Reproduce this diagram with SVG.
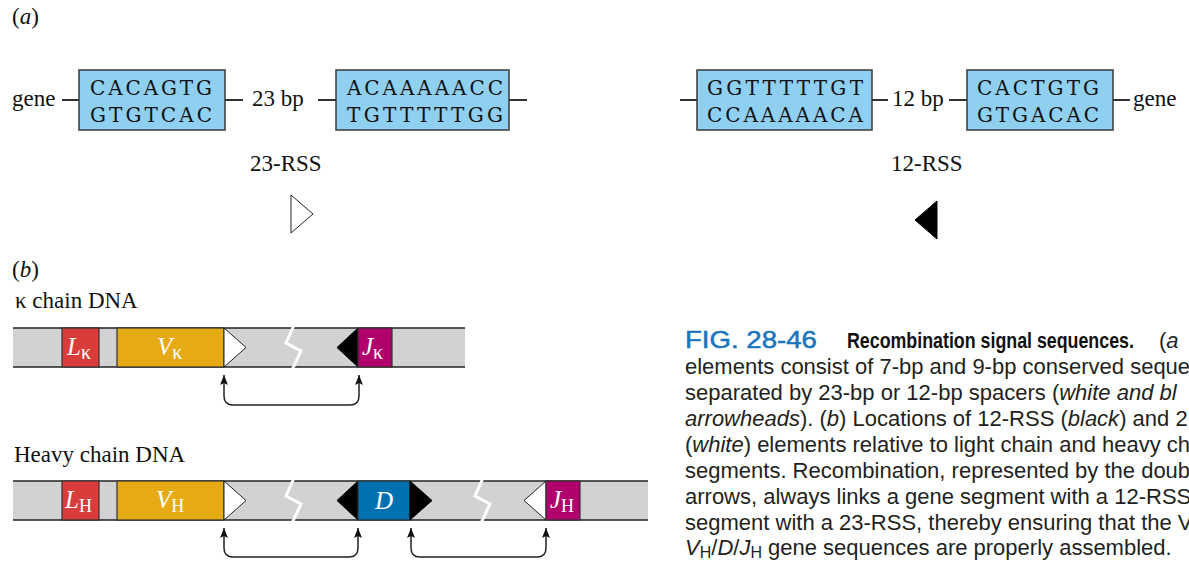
<svg xmlns="http://www.w3.org/2000/svg" width="1189" height="561" viewBox="0 0 1189 561">
<defs>
<style>
.serif{font-family:"Liberation Serif","DejaVu Serif",serif;fill:#111}
.lbl{font-size:23px}
.seq{font-family:"DejaVu Serif","Liberation Serif",serif;font-size:20px;fill:#111}
.box{fill:#8fcff0;stroke:#3a3a3a;stroke-width:1.5}
.ln{stroke:#333;stroke-width:1.8;fill:none}
.bar{fill:#d1d2d4}
.edge{stroke:#222;stroke-width:1.5}
.seg{stroke:#333;stroke-width:1.2}
.wl{font-family:"Liberation Serif","DejaVu Serif",serif;font-size:25px;fill:#fff}
.sub{font-size:20px}
.brk{stroke:#fff;stroke-width:3;fill:none}
.tw{fill:#fff;stroke:#222;stroke-width:1}
.tb{fill:#000;stroke:#000;stroke-width:1}
.conn{stroke:#222;stroke-width:1.5;fill:none}
.cap{font-family:"Liberation Sans","Noto Sans",sans-serif;font-size:22px;fill:#231f20}
.fig{font-family:"Liberation Sans","Noto Sans",sans-serif;font-size:23px;fill:#1b75bc;stroke:#1b75bc;stroke-width:0.5}
.bold{font-family:"Liberation Sans","Noto Sans",sans-serif;font-size:22px;font-weight:bold;fill:#111}
.it{font-style:italic}
</style>
<marker id="ah" viewBox="0 0 10 8" refX="10" refY="4" markerWidth="10" markerHeight="8" markerUnits="userSpaceOnUse" orient="auto-start-reverse">
<path d="M0,0 L10,4 L0,8 L2,4 Z" fill="#111"/>
</marker>
</defs>

<g id="panel-a">
<text class="serif lbl" x="12" y="24">(<tspan class="it">a</tspan>)</text>
<g id="rss23">
<text class="serif lbl" x="12" y="106">gene</text>
<g id="hept1"><rect class="box" x="79" y="70" width="146" height="60"/>
<text class="seq" x="90" y="95" textLength="122" lengthAdjust="spacing">CACAGTG</text>
<text class="seq" x="90" y="122" textLength="122" lengthAdjust="spacing">GTGTCAC</text></g>
<text class="serif lbl" x="252" y="106">23 bp</text>
<g id="non1"><rect class="box" x="336" y="70" width="173" height="60"/>
<text class="seq" x="347" y="95" textLength="156" lengthAdjust="spacing">ACAAAAACC</text>
<text class="seq" x="347" y="122" textLength="156" lengthAdjust="spacing">TGTTTTTGG</text></g>
<text class="serif lbl" x="250" y="171">23-RSS</text>
<polygon class="tw" points="291,195 313,214 291,233"/>
</g>
<g id="rss12">
<g id="non2"><rect class="box" x="697" y="70" width="175" height="60"/>
<text class="seq" x="707" y="95" textLength="156" lengthAdjust="spacing">GGTTTTTGT</text>
<text class="seq" x="707" y="122" textLength="156" lengthAdjust="spacing">CCAAAAACA</text></g>
<text class="serif lbl" x="892" y="106">12 bp</text>
<g id="hept2"><rect class="box" x="967" y="70" width="146" height="60"/>
<text class="seq" x="977" y="95" textLength="122" lengthAdjust="spacing">CACTGTG</text>
<text class="seq" x="977" y="122" textLength="122" lengthAdjust="spacing">GTGACAC</text></g>
<text class="serif lbl" x="1133" y="106">gene</text>
<text class="serif lbl" x="891" y="171">12-RSS</text>
<polygon class="tb" points="937,201 915,220 937,239"/>
</g>
</g>

<g id="panel-b">
<text class="serif lbl" x="12" y="277">(<tspan class="it">b</tspan>)</text>
<g id="kappa">
<text class="serif lbl" x="15" y="308">κ chain DNA</text>
<rect class="bar" x="13" y="328" width="452" height="39"/>
<line class="edge" x1="13" y1="328" x2="465" y2="328"/>
<line class="edge" x1="13" y1="367" x2="465" y2="367"/>
<g id="Lk"><rect class="seg" x="62" y="328" width="37" height="39" fill="#da3b3b"/>
<text class="wl" x="67" y="355"><tspan class="it">L</tspan><tspan class="sub" dy="4">κ</tspan></text></g>
<g id="Vk"><rect class="seg" x="117" y="328" width="107" height="39" fill="#e6aa15"/>
<text class="wl" x="157" y="355"><tspan class="it">V</tspan><tspan class="sub" dy="4">κ</tspan></text></g>
<polygon class="tw" points="224,328 246,347.5 224,367"/>
<polyline class="brk" points="294,325 286,343 301,351 292,370"/>
<polygon class="tb" points="358,328 337,347.5 358,367"/>
<g id="Jk"><rect class="seg" x="358" y="328" width="34" height="39" fill="#b1016c"/>
<text class="wl" x="362" y="355"><tspan class="it">J</tspan><tspan class="sub" dy="4">κ</tspan></text></g>
</g>
<g id="heavy">
<text class="serif lbl" x="14" y="462">Heavy chain DNA</text>
<rect class="bar" x="13" y="481" width="635" height="39"/>
<line class="edge" x1="13" y1="481" x2="648" y2="481"/>
<line class="edge" x1="13" y1="520" x2="648" y2="520"/>
<g id="LH"><rect class="seg" x="62" y="481" width="37" height="39" fill="#da3b3b"/>
<text class="wl" x="65" y="508"><tspan class="it">L</tspan><tspan font-size="18" dy="4">H</tspan></text></g>
<g id="VH"><rect class="seg" x="117" y="481" width="107" height="39" fill="#e6aa15"/>
<text class="wl" x="156" y="508"><tspan class="it">V</tspan><tspan font-size="18" dy="4">H</tspan></text></g>
<polygon class="tw" points="224,481 246,500.5 224,520"/>
<polyline class="brk" points="294,478 286,496 301,504 292,523"/>
<polygon class="tb" points="358,481 337,500.5 358,520"/>
<g id="D"><rect class="seg" x="358" y="481" width="52" height="39" fill="#0071b0"/>
<text class="wl it" x="384" y="509" text-anchor="middle">D</text></g>
<polygon class="tb" points="410,481 432,500.5 410,520"/>
<polyline class="brk" points="483,478 475,496 490,504 481,523"/>
<polygon class="tw" points="546,481 524,500.5 546,520"/>
<g id="JH"><rect class="seg" x="546" y="481" width="34" height="39" fill="#b1016c"/>
<text class="wl" x="550" y="508"><tspan class="it">J</tspan><tspan font-size="18" dy="4">H</tspan></text></g>
</g>
</g>

<g id="connectors">
<path class="ln" d="M62,100 H79 M225,100 H243 M318,100 H336 M509,100 H527"/>
<path class="ln" d="M680,100 H697 M872,100 H888 M949,100 H967 M1113,100 H1130"/>
<path class="conn" marker-start="url(#ah)" marker-end="url(#ah)" d="M224,375 V396 Q224,405 233,405 H350 Q359,405 359,396 V375"/>
<path class="conn" marker-start="url(#ah)" marker-end="url(#ah)" d="M224,528 V548 Q224,557 233,557 H349 Q358,557 358,548 V528"/>
<path class="conn" marker-start="url(#ah)" marker-end="url(#ah)" d="M411,528 V548 Q411,557 420,557 H537 Q546,557 546,548 V528"/>
</g>

<g id="caption">
<text class="fig" transform="translate(685,348) scale(1.2,1)">FIG. 28-46</text>
<text class="bold" transform="translate(847,348) scale(0.81,1)">Recombination signal sequences.</text>
<text class="cap" x="1159" y="348">(<tspan class="it">a</tspan></text>
<text class="cap" x="685" y="374">elements consist of 7-bp and 9-bp conserved seque</text>
<text class="cap" x="685" y="400">separated by 23-bp or 12-bp spacers (<tspan class="it">white and bl</tspan></text>
<text class="cap" x="685" y="426"><tspan class="it">arrowheads</tspan>). (<tspan class="it">b</tspan>) Locations of 12-RSS (<tspan class="it">black</tspan>) and 2</text>
<text class="cap" x="685" y="452">(<tspan class="it">white</tspan>) elements relative to light chain and heavy ch</text>
<text class="cap" x="685" y="478">segments. Recombination, represented by the doub</text>
<text class="cap" x="685" y="504">arrows, always links a gene segment with a 12-RSS</text>
<text class="cap" x="685" y="530">segment with a 23-RSS, thereby ensuring that the V</text>
<text class="cap" x="685" y="555"><tspan class="it">V</tspan><tspan font-size="16" dy="3">H</tspan><tspan dy="-3">/</tspan><tspan class="it">D</tspan>/<tspan class="it">J</tspan><tspan font-size="16" dy="3">H</tspan><tspan dy="-3"> gene sequences are properly assembled.</tspan></text>
</g>
</svg>
